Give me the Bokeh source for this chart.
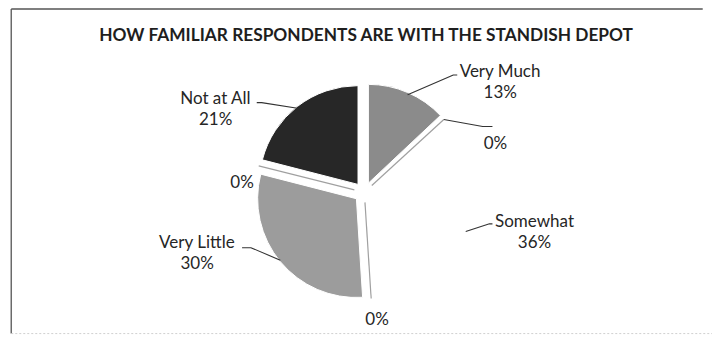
import numpy as np
from bokeh.plotting import figure
from bokeh.models import Range1d
from bokeh.core.properties import value
from bokeh.embed import file_html
from bokeh.resources import INLINE

# ---- data ----
categories = ["Very Much", "", "Somewhat", "", "Very Little", "", "Not at All"]
percents = [13, 0, 36, 0, 30, 0, 21]
slice_colors = ["#8b8b8b", "#a0a0a0", "#ffffff", "#a0a0a0", "#9c9c9c", "#a0a0a0", "#272727"]
title_text = "HOW FAMILIAR RESPONDENTS ARE WITH THE STANDISH DEPOT"

# ---- layout (reference pixel coordinates 728x351, y measured from top) ----
REF_W, REF_H = 728, 351
def Y(py):
    return REF_H - py

FONT = "Lato"
W, H = 712, 335
cx, cy, R, EXPLODE = 372, Y(201), 101, 10.5

# label centres: (x, name_y, pct_y)
label_pos = [
    (511, 73, 95),
    (506, None, 149),
    (546, 230, 252),
    (385, None, 333),
    (201, 252, 275),
    (247, None, 190),
    (220, 102, 124),
]
# leader elbows - None = no leader
leader_elbows = [
    [(463, 78), (467, 78)],
    [(493, 132), (503, 132)],
    [(500, 234), (503, 234)],
    None,
    [(256, 259), (247, 259)],
    None,
    [(267, 107), (262, 107)],
]

p = figure(width=W, height=H, x_range=Range1d(0, REF_W), y_range=Range1d(0, REF_H),
           output_backend="svg", toolbar_location=None, min_border=0)
p.axis.visible = False
p.grid.visible = False
p.outline_line_color = None
p.background_fill_color = "white"
p.border_fill_color = "white"

# frame of the scanned chart area
p.line([11, 11], [Y(349), Y(9)], line_color="#6a6a6a", line_width=1.5)
p.line([11, 718], [Y(9), Y(9)], line_color="#555555", line_width=1.5)
p.line([11, 728], [Y(349), Y(349)], line_color="#d0d0d0", line_width=1, line_dash="2 2")

# title
p.text([374.5], [Y(36)], text=[title_text], text_font=value(FONT), text_font_style="bold",
       text_font_size="17.3px", text_align="center", text_baseline="middle", text_color="#1e1e1e")

cum = np.concatenate([[0], np.cumsum(percents)]) / 100.0 * 360.0
for i, pct in enumerate(percents):
    t1, t2 = cum[i], cum[i + 1]
    tm = np.radians((t1 + t2) / 2)
    ax = cx + EXPLODE * np.sin(tm)
    ay = cy + EXPLODE * np.cos(tm)
    if pct > 0:
        p.wedge(x=[ax], y=[ay], radius=R,
                start_angle=[np.radians(90 - t2)], end_angle=[np.radians(90 - t1)],
                direction="anticlock", fill_color=slice_colors[i],
                line_color="white", line_width=1)
    else:
        t = np.radians(t1)
        p.line([ax, ax + R * np.sin(t)], [ay, ay + R * np.cos(t)],
               line_color=slice_colors[i], line_width=1.2)
    # leader line from slice bisector on the arc
    if leader_elbows[i] is not None:
        sx = ax + R * np.sin(tm)
        sy = ay + R * np.cos(tm)
        xs = [sx] + [e[0] for e in leader_elbows[i]]
        ys = [sy] + [Y(e[1]) for e in leader_elbows[i]]
        p.line(xs, ys, line_color="#333333", line_width=1.1)
    lx, ny, py_ = label_pos[i]
    if categories[i]:
        p.text([lx], [Y(ny)], text=[categories[i]], text_font=value(FONT),
               text_font_size="17px", text_align="center", text_baseline="middle",
               text_color="#262626")
    p.text([lx], [Y(py_)], text=[f"{pct}%"], text_font=value(FONT),
           text_font_size="17px", text_align="center", text_baseline="middle",
           text_color="#262626")

open("out.html", "w").write(file_html(p, INLINE))
